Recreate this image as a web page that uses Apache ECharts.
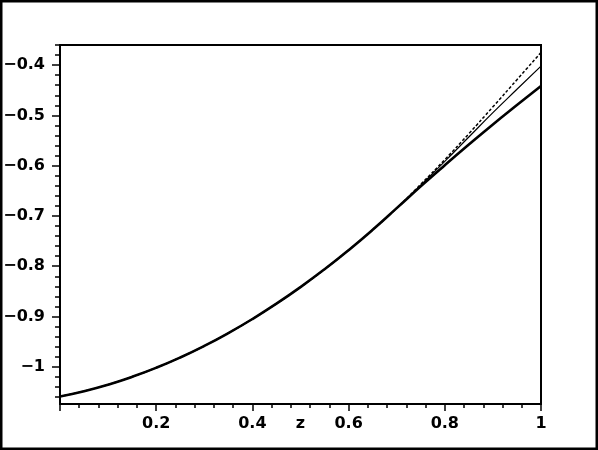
<!DOCTYPE html>
<html><head><meta charset="utf-8">
<script src="https://cdn.jsdelivr.net/npm/echarts@6/dist/echarts.min.js"></script>
<style>html,body{margin:0;padding:0;background:#fff}#c{width:598px;height:450px}</style>
</head><body><div id="c"></div>
<script>
const zValues      = [0, 0.05, 0.1, 0.15, 0.2, 0.25, 0.3, 0.35, 0.4, 0.45, 0.5, 0.55, 0.6, 0.65, 0.7, 0.75, 0.8, 0.85, 0.9, 0.95, 1];
const seriesThick  = [-1.059, -1.0485, -1.0355, -1.020, -1.002, -0.9815, -0.9585, -0.933, -0.905, -0.8745, -0.8415, -0.806, -0.768, -0.7275, -0.6845, -0.641, -0.599, -0.558, -0.518, -0.4795, -0.4415];
const seriesThin   = [-1.059, -1.0485, -1.0355, -1.020, -1.002, -0.9815, -0.9585, -0.933, -0.905, -0.8745, -0.8415, -0.806, -0.768, -0.7275, -0.6845, -0.639, -0.5915, -0.543, -0.4945, -0.448, -0.402];
const seriesDashed = [-1.059, -1.0485, -1.0355, -1.020, -1.002, -0.9815, -0.9585, -0.933, -0.905, -0.8745, -0.8415, -0.806, -0.768, -0.7275, -0.6845, -0.637, -0.588, -0.5365, -0.483, -0.429, -0.375];
const xAxisName = 'z';
const yTickValues = [-1, -0.9, -0.8, -0.7, -0.6, -0.5, -0.4];
const yMinorTickValues = [-1.06, -1.04, -1.02, -0.98, -0.96, -0.94, -0.92, -0.88, -0.86, -0.84, -0.82,
  -0.78, -0.76, -0.74, -0.72, -0.68, -0.66, -0.64, -0.62, -0.58, -0.56, -0.54, -0.52,
  -0.48, -0.46, -0.44, -0.42, -0.38, -0.36];

const pairs = ys => zValues.map((z, i) => [z, ys[i]]);
const fmt = v => String(v).replace('-', '\u2212');
const fmtX = v => (v === 0 ? '' : String(v));
const font = {fontFamily: 'DejaVu Sans, sans-serif', fontSize: 16, fontWeight: 'bold', color: '#000'};

const chart = echarts.init(document.getElementById('c'), null, {renderer: 'canvas'});
chart.setOption({
  animation: false,
  backgroundColor: '#fff',
  graphic: [{type: 'rect', shape: {x: 1, y: 1, width: 596, height: 448},
    style: {fill: null, stroke: '#000', lineWidth: 3}, silent: true, z: 100}],
  grid: {left: 60, right: 57, top: 45, bottom: 46, show: true, borderColor: '#000', borderWidth: 2,
    backgroundColor: 'transparent', containLabel: false, outerBoundsMode: 'none'},
  xAxis: {
    type: 'value', min: 0, max: 1, interval: 0.2,
    name: xAxisName, nameLocation: 'middle', nameGap: 12, nameMoveOverlap: false,
    nameTextStyle: Object.assign({verticalAlign: 'top'}, font),
    axisLine: {show: true, lineStyle: {color: '#000', width: 2}},
    axisTick: {show: true, length: 7, lineStyle: {color: '#000', width: 1.5}},
    minorTick: {show: true, splitNumber: 5, length: 4, lineStyle: {color: '#000', width: 1.5}},
    axisLabel: Object.assign({margin: 12, formatter: fmtX}, font),
    splitLine: {show: false}
  },
  yAxis: [{
    type: 'value', min: -1.074, max: -0.36,
    axisLine: {show: true, lineStyle: {color: '#000', width: 2}},
    axisTick: {show: true, length: 8, customValues: yTickValues, lineStyle: {color: '#000', width: 1.5}},
    axisLabel: Object.assign({margin: 15, formatter: fmt, customValues: yTickValues}, font),
    splitLine: {show: false}
  }, {
    type: 'value', min: -1.074, max: -0.36, position: 'left',
    axisLine: {show: false},
    axisTick: {show: true, length: 5, customValues: yMinorTickValues, lineStyle: {color: '#000', width: 1.5}},
    axisLabel: {show: false},
    splitLine: {show: false}
  }],
  series: [
    {type: 'line', data: pairs(seriesDashed), smooth: true, symbol: 'none', z: 3,
     lineStyle: {color: '#000', width: 1.5, type: [3, 2]}},
    {type: 'line', data: pairs(seriesThin), smooth: true, symbol: 'none', z: 4,
     lineStyle: {color: '#000', width: 1.2}},
    {type: 'line', data: pairs(seriesThick), smooth: true, symbol: 'none', z: 5,
     lineStyle: {color: '#000', width: 2.6}}
  ]
});
</script></body></html>
